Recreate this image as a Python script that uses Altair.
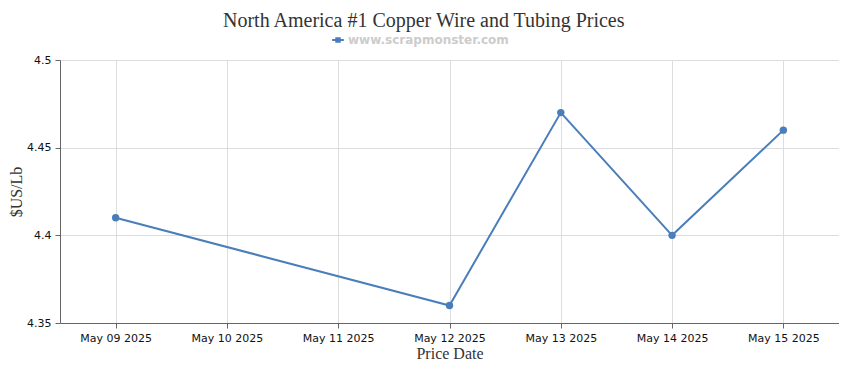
import altair as alt
import pandas as pd

all_dates = ["May 09 2025", "May 10 2025", "May 11 2025", "May 12 2025",
             "May 13 2025", "May 14 2025", "May 15 2025"]
dates = ["May 09 2025", "May 12 2025", "May 13 2025", "May 14 2025", "May 15 2025"]
prices = [4.41, 4.36, 4.47, 4.40, 4.46]
series_name = "www.scrapmonster.com"
y_ticks = [4.35, 4.4, 4.45, 4.5]

df = pd.DataFrame({"date": dates, "price": prices, "source": [series_name] * len(dates)})

blue = "#4a7ebb"
label_font = "DejaVu Sans"
serif = "Liberation Serif"

x = alt.X("date:O", sort=all_dates,
          scale=alt.Scale(type="point", domain=all_dates, padding=0.5),
          axis=alt.Axis(title="Price Date", labelAngle=0, labelFont=label_font,
                        labelFontSize=11, labelColor="#111", titleFont=serif,
                        titleFontSize=16, titleFontWeight="normal", titleColor="#333",
                        titlePadding=2, grid=True, gridColor="#dddddd",
                        domainColor="#666", tickColor="#666", tickSize=5, labelPadding=4))
y = alt.Y("price:Q",
          scale=alt.Scale(domain=[4.35, 4.5], nice=False, zero=False),
          axis=alt.Axis(title="$US/Lb", values=y_ticks, format="~g", labelFont=label_font,
                        labelFontSize=11, labelColor="#111", titleFont=serif,
                        titleFontSize=16, titleFontWeight="normal", titleColor="#333",
                        titlePadding=2, grid=True, gridColor="#dddddd",
                        domainColor="#666", tickColor="#666", tickSize=5, labelPadding=4))

color = alt.Color("source:N", scale=alt.Scale(range=[blue]),
                  legend=alt.Legend(title=None, orient="none", legendX=272, legendY=-26,
                                    direction="horizontal", labelLimit=400,
                                    symbolType="M-1.5,0L1.5,0M-0.45,-0.45L0.45,-0.45L0.45,0.45L-0.45,0.45Z",
                                    symbolFillColor=blue, symbolStrokeColor=blue,
                                    symbolStrokeWidth=2, symbolSize=60,
                                    labelFont="DejaVu Sans", labelFontSize=12,
                                    labelFontWeight="bold", labelColor="#cccccc"))

line = alt.Chart(df).mark_line(strokeWidth=2).encode(x=x, y=y, color=color)
points = alt.Chart(df).mark_point(filled=True, size=55, opacity=1).encode(
    x=x, y=y, color=alt.Color("source:N", scale=alt.Scale(range=[blue]), legend=None))

chart = alt.layer(line, points).properties(
    width=779, height=263,
    padding={"left": 0, "top": 3, "right": 0, "bottom": 0},
    title=alt.Title("North America #1 Copper Wire and Tubing Prices", font=serif,
                    fontSize=20, fontWeight="normal", color="#333", offset=3,
                    anchor="middle", frame="bounds"),
).configure_view(stroke=None).configure(background="white")

chart.save("out.html", embed_options={"renderer": "svg", "actions": False})
